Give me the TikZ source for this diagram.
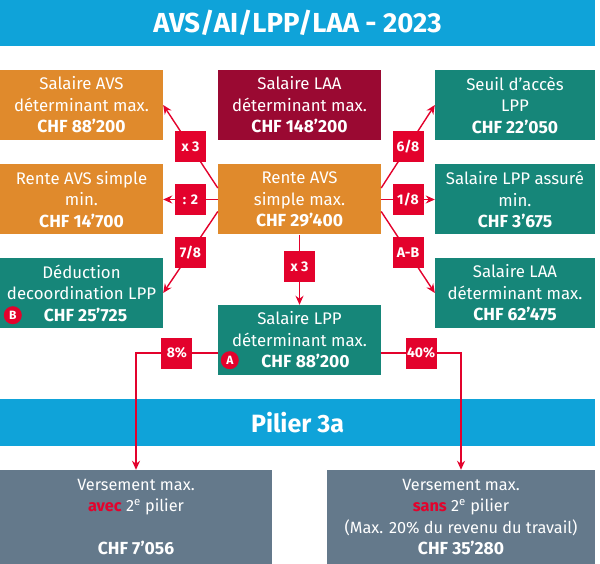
\documentclass[tikz,border=0pt]{standalone}
\usepackage{fontspec}
\setmainfont{Fira Sans}
\usetikzlibrary{arrows.meta,positioning,calc}
\definecolor{bannerblue}{HTML}{0FA3D9}
\definecolor{avsorange}{HTML}{E08A2C}
\definecolor{laared}{HTML}{9A0932}
\definecolor{lppteal}{HTML}{168679}
\definecolor{pilgray}{HTML}{64798B}
\definecolor{linkred}{HTML}{E3022C}
\newcommand{\amount}[1]{{\bfseries\fontsize{17.5}{21.5}\selectfont #1}}

\begin{document}
\begin{tikzpicture}[x=1pt, y=-1pt,
    box/.style={minimum height=70pt, inner sep=0pt, align=center, text=white,
        font=\fontsize{16.8}{21.5}\selectfont},
    banner/.style={fill=bannerblue, minimum width=595pt, minimum height=47pt,
        inner sep=0pt, text=white, font=\bfseries\fontsize{25}{28}\selectfont},
    lbl/.style={fill=linkred, text=white, minimum size=31pt, inner sep=0pt,
        font=\bfseries\fontsize{14}{15}\selectfont},
    link/.style={draw=linkred, line width=1.4pt, -{Stealth[length=9pt,width=8pt]}},
    badge/.style={circle, fill=linkred, text=white, minimum size=18pt, inner sep=0pt,
        font=\bfseries\fontsize{12}{12}\selectfont}]
    \useasboundingbox (0,0) rectangle (600,564);

    % Banners
    \node[banner, font=\bfseries\fontsize{27.5}{30}\selectfont] (title) at (297.5,23) {AVS/AI/LPP/LAA - 2023};
    \node[banner] (pilier) at (297.5,422.5) {Pilier 3a};

    % Top row
    \node[box, fill=avsorange, minimum width=163pt] (avsmax) at (81.5,105)
        {Salaire AVS\\déterminant max.\\\amount{CHF 88'200}};
    \node[box, fill=laared, minimum width=163pt] (laamax) at (299.5,105)
        {Salaire LAA\\déterminant max.\\\amount{CHF 148'200}};
    \node[box, fill=lppteal, minimum width=160pt] (seuil) at (515,105)
        {Seuil d'accès\\LPP\\\amount{CHF 22'050}};

    % Middle row
    \node[box, fill=avsorange, minimum width=163pt] (rentemin) at (81.5,199.5)
        {Rente AVS simple\\min.\\\amount{CHF 14'700}};
    \node[box, fill=avsorange, minimum width=163pt] (rente) at (299.5,199.5)
        {Rente AVS\\simple max.\\\amount{CHF 29'400}};
    \node[box, fill=lppteal, minimum width=160pt] (lppmin) at (515,199.5)
        {Salaire LPP assuré\\min.\\\amount{CHF 3'675}};

    % Bottom row
    \node[box, fill=lppteal, minimum width=163pt] (deduction) at (81.5,293)
        {Déduction\\decoordination LPP\\\hspace*{8pt}\amount{CHF 25'725}};
    \node[box, fill=lppteal, minimum width=160pt] (laaass) at (515,293)
        {Salaire LAA\\déterminant max.\\\amount{CHF 62'475}};
    \node[box, fill=lppteal, minimum width=163pt] (lppmax) at (299.5,340)
        {Salaire LPP\\déterminant max.\\\hspace*{12pt}\amount{CHF 88'200}};

    % Pillar 3a
    \node[box, fill=pilgray, minimum width=272pt, minimum height=94pt,
        font=\fontsize{16.3}{21.3}\selectfont] (avec) at (136,517)
        {Versement max.\\{\color{linkred}\bfseries avec} 2\textsuperscript{e} pilier\\\mbox{}\\\amount{CHF 7'056}};
    \node[box, fill=pilgray, minimum width=268pt, minimum height=94pt,
        font=\fontsize{16.3}{21.3}\selectfont] (sans) at (461,517)
        {Versement max.\\{\color{linkred}\bfseries sans} 2\textsuperscript{e} pilier\\(Max. 20\% du revenu du travail)\\\amount{CHF 35'280}};

    % Badges
    \node[badge] (badgea) at ($(lppmax.south west)+(12,-15)$) {A};
    \node[badge] (badgeb) at ($(deduction.south west)+(13,-13)$) {B};

    % Arrows
    \draw[link] ([yshift=11.5pt]rente.west) -- node[lbl] {x 3} (avsmax.east);
    \draw[link] (rente.west) -- node[lbl] {: 2} (rentemin.east);
    \draw[link] ([yshift=-12pt]rente.west) -- node[lbl] {7/8} (deduction.east);
    \draw[link] ([yshift=11.5pt]rente.east) -- node[lbl] {6/8} (seuil.west);
    \draw[link] (rente.east) -- node[lbl] {1/8} (lppmin.west);
    \draw[link] ([yshift=-12pt]rente.east) -- node[lbl] {A-B} (laaass.west);
    \draw[link] (rente.south) -- node[lbl, yshift=3pt] {x 3} (lppmax.north);
    \draw[link] ([yshift=-13pt]lppmax.west) -| node[lbl, pos=0.25] {8\%} (avec.north);
    \draw[link] ([yshift=-13pt]lppmax.east) -| node[lbl, pos=0.25] {40\%} (sans.north);
\end{tikzpicture}
\end{document}
